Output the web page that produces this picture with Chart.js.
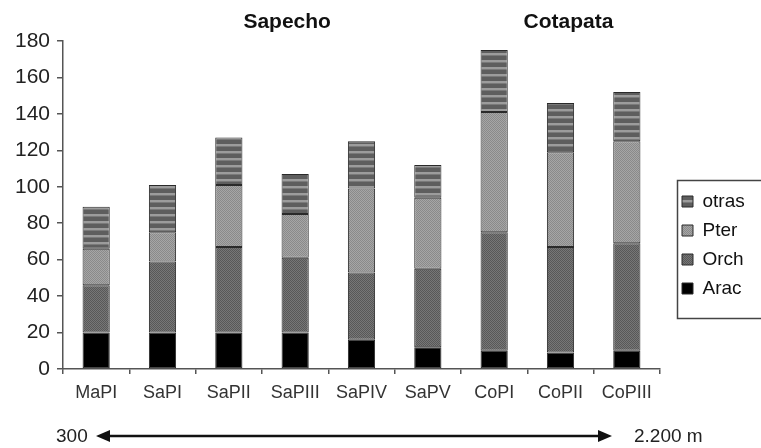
<!DOCTYPE html>
<html>
<head>
<meta charset="utf-8">
<script src="https://cdn.jsdelivr.net/npm/chart.js@4"></script>
<style>
  html, body { margin: 0; padding: 0; background: #fff; }
  #wrap { width: 761px; height: 448px; }
</style>
</head>
<body>
<div id="wrap"><canvas id="chart-bars" width="761" height="448"></canvas></div>
<script>
// data
const sites = ["MaPI", "SaPI", "SaPII", "SaPIII", "SaPIV", "SaPV", "CoPI", "CoPII", "CoPIII"];
const arac = [20, 20, 20, 20, 16, 12, 10, 9, 10];
const orch = [26, 39, 47, 41, 37, 43, 65, 58, 59];
const pter = [20, 16, 34, 24, 46, 39, 66, 52, 56];
const otras = [23, 26, 26, 22, 26, 18, 34, 27, 27];
const yTicks = [0, 20, 40, 60, 80, 100, 120, 140, 160, 180];

const FONT = "Liberation Sans, Arial, sans-serif";

// little tile patterns for the grey fills
function makePattern(w, h, paint) {
  const c = document.createElement("canvas");
  c.width = w;
  c.height = h;
  paint(c.getContext("2d"));
  return document.getElementById("chart-bars").getContext("2d").createPattern(c, "repeat");
}

const stripes = makePattern(4, 7, function (p) {
  p.fillStyle = "#5e5e5e";
  p.fillRect(0, 0, 4, 7);
  p.fillStyle = "#9c9c9c";
  p.fillRect(0, 4, 4, 2);
  p.fillStyle = "#7a7a7a";
  p.fillRect(0, 6, 4, 1);
});
const lightDots = makePattern(2, 2, function (p) {
  p.fillStyle = "#a6a6a6";
  p.fillRect(0, 0, 2, 2);
  p.fillStyle = "#8a8a8a";
  p.fillRect(0, 0, 1, 1);
  p.fillRect(1, 1, 1, 1);
});
const darkDots = makePattern(2, 2, function (p) {
  p.fillStyle = "#777";
  p.fillRect(0, 0, 2, 2);
  p.fillStyle = "#585858";
  p.fillRect(0, 0, 1, 1);
  p.fillRect(1, 1, 1, 1);
});

// titles, altitude arrow and legend frame
const extras = {
  id: "extras",
  afterLayout(chart) {
    const lg = chart.legend;
    lg.left = 672;
    lg.right = 761;
    lg.top = 182;
    lg.bottom = 320;
  },
  afterDraw(chart) {
    const c = chart.ctx;
    const x = chart.scales.x;
    c.save();
    c.fillStyle = "#111";
    c.font = "bold 21px " + FONT;
    c.textAlign = "center";
    c.textBaseline = "middle";
    c.fillText("Sapecho", (x.getPixelForValue(1) + x.getPixelForValue(5)) / 2 - 8, 22);
    c.fillText("Cotapata", x.getPixelForValue(7) + 8, 22);

    // arrow
    c.font = "19px " + FONT;
    c.textAlign = "left";
    c.fillStyle = "#222";
    c.fillText("300", 56, 437);
    c.fillText("2.200 m", 634, 437);
    c.strokeStyle = "#111";
    c.lineWidth = 2.5;
    c.beginPath();
    c.moveTo(104, 436);
    c.lineTo(604, 436);
    c.stroke();
    c.fillStyle = "#111";
    c.beginPath();
    c.moveTo(96, 436);
    c.lineTo(110, 430);
    c.lineTo(110, 442);
    c.closePath();
    c.fill();
    c.beginPath();
    c.moveTo(612, 436);
    c.lineTo(598, 430);
    c.lineTo(598, 442);
    c.closePath();
    c.fill();

    // legend frame
    c.strokeStyle = "#444";
    c.lineWidth = 1.5;
    c.strokeRect(677.5, 180.5, 100, 138);
    c.restore();
  },
};

function segment(label, values, fill) {
  return {
    label: label,
    data: values,
    backgroundColor: fill,
    borderColor: "#2a2a2a",
    borderWidth: 1,
    borderSkipped: false,
    categoryPercentage: 1,
    barPercentage: 0.41,
  };
}

var ctx = document.getElementById("chart-bars").getContext("2d");
var chart1 = new Chart(ctx, {
  type: "bar",
  plugins: [
    extras,
    {
      beforeInit(chart) {
        const originalFit = chart.legend.fit;
        chart.legend.fit = function fit() {
          originalFit.bind(chart.legend)();
          this.width = 101;
        };
      },
    },
  ],
  data: {
    labels: sites,
    datasets: [
      segment("Arac", arac, "#000"),
      segment("Orch", orch, darkDots),
      segment("Pter", pter, lightDots),
      segment("otras", otras, stripes),
    ],
  },
  options: {
    responsive: false,
    animation: false,
    devicePixelRatio: 1,
    layout: { padding: { top: 41, left: 0, right: 0, bottom: 0 } },
    plugins: {
      legend: {
        display: true,
        position: "right",
        align: "start",
        reverse: true,
        labels: {
          boxWidth: 11,
          boxHeight: 11,
          padding: 10,
          color: "#111",
          font: { size: 19, family: FONT },
        },
      },
      tooltip: { enabled: false },
    },
    scales: {
      x: {
        stacked: true,
        afterFit(scale) {
          scale.height = 79;
        },
        border: { color: "#555", width: 1.5 },
        grid: {
          display: true,
          offset: true,
          drawOnChartArea: false,
          drawTicks: true,
          tickLength: 5,
          color: "#555",
          lineWidth: 1.5,
        },
        ticks: {
          padding: 8,
          color: "#333",
          maxRotation: 0,
          font: { size: 18, family: FONT },
        },
      },
      y: {
        stacked: true,
        min: 0,
        max: 180,
        afterFit(scale) {
          scale.width = 63;
        },
        afterBuildTicks(scale) {
          scale.ticks = yTicks.map((v) => ({ value: v }));
        },
        border: { color: "#555", width: 1.5 },
        grid: {
          display: true,
          drawOnChartArea: false,
          drawTicks: true,
          tickLength: 6,
          color: "#555",
          lineWidth: 1.5,
        },
        ticks: {
          padding: 7,
          color: "#222",
          font: { size: 21, family: FONT },
        },
      },
    },
  },
});
</script>
</body>
</html>
